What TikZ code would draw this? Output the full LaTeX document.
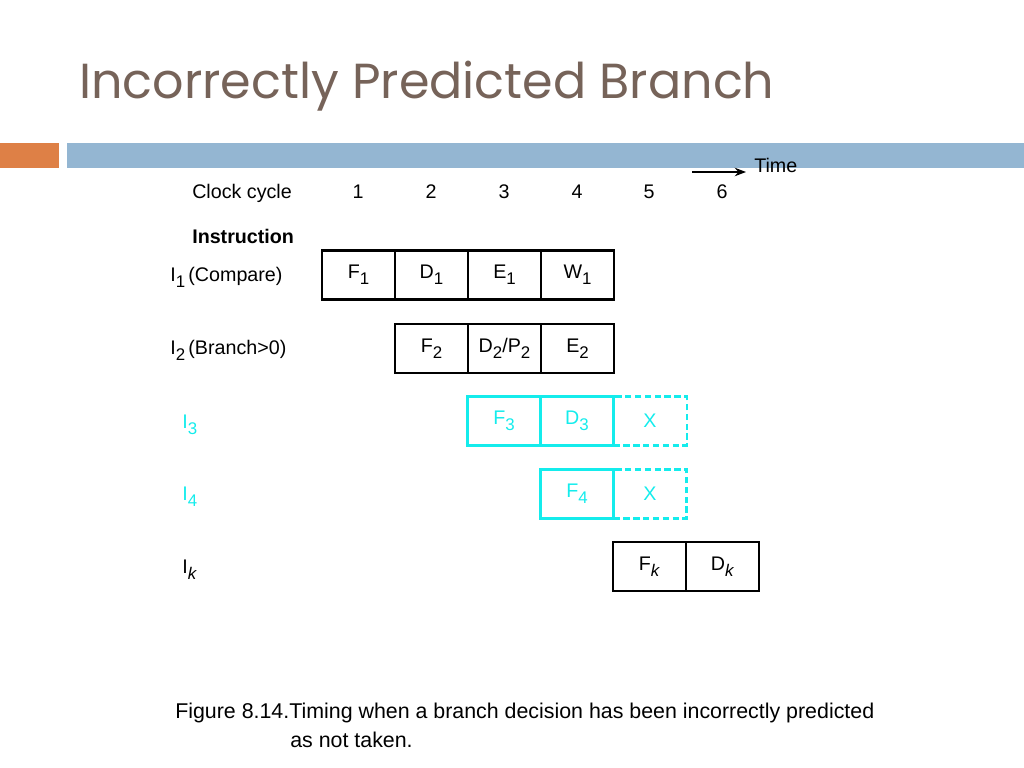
\documentclass[tikz,border=0pt]{standalone}
\usepackage{fontspec}
\setmainfont{Liberation Sans}
\newfontfamily\titlefont{Poppins}
\usetikzlibrary{positioning,arrows.meta}
\definecolor{titlebrown}{RGB}{118,99,89}
\definecolor{barorange}{RGB}{222,128,70}
\definecolor{barblue}{RGB}{148,182,210}
\definecolor{mycyan}{RGB}{20,236,236}
\newcommand{\lo}[1]{\raisebox{-0.6ex}{\fontsize{12}{14}\selectfont #1}}
\tikzset{
  cellbox/.style={draw, line width=1.5pt, outer sep=0pt, minimum width=1.825cm, minimum height=1.225cm, inner sep=0pt, font=\fontsize{14}{16}\selectfont},
  missbox/.style={cellbox, draw=mycyan, text=mycyan, dash pattern=on 4.5pt off 2.5pt},
  label/.style={anchor=west, inner sep=0pt, font=\fontsize{14}{16}\selectfont}
}
\begin{document}
\begin{tikzpicture}[x=0.025cm, y=-0.025cm]
               \useasboundingbox (0,0) rectangle (1024,768);
               % title and bars
               \node[anchor=west, inner sep=0pt, text=titlebrown, font=\titlefont\fontsize{35}{40}\selectfont] (title) at (79,86) {Incorrectly Predicted Branch};
               \fill[barorange] (0,143) rectangle (59,168);
               \fill[barblue] (67,143) rectangle (1024,168);
               % time axis
               \node[label] (time) at (754,165) {Time};
               \coordinate (ts) at (692,172);
               \coordinate (te) at (746,172);
               \draw[-{Stealth[length=8pt,width=6pt]}, line width=1.5pt] (ts)--(te);
               \node[label] (cc) at (192,193) {Clock cycle};
               \foreach \i/\x in {1/358,2/431,3/504,4/577,5/649,6/722}
                    \node[label, anchor=center] (c\i) at (\x,192) {\i};
               \node[label, font=\fontsize{14}{16}\selectfont\bfseries] (instr) at (192,236) {Instruction};
               % row labels
               \node[label] (l1) at (170,277) {I\lo{1}\,(Compare)};
               \node[label] (l2) at (170,350) {I\lo{2}\,(Branch>0)};
               \node[label, text=mycyan] (l3) at (182,425) {I\lo{3}};
               \node[label, text=mycyan] (l4) at (182,497) {I\lo{4}};
               \node[label] (lk) at (182,570) {I\lo{\textit{k}}};
               % I1
               \node[cellbox] (f1) at (358.5,275) {F\lo{1}};
               \node[cellbox, right=0pt of f1] (d1) {D\lo{1}};
               \node[cellbox, right=0pt of d1] (e1) {E\lo{1}};
               \node[cellbox, right=0pt of e1] (w1) {W\lo{1}};
               % I2
               \node[cellbox] (f2) at (431.5,348.5) {F\lo{2}};
               \node[cellbox, right=0pt of f2] (d2) {D\lo{2}/P\lo{2}};
               \node[cellbox, right=0pt of d2] (e2) {E\lo{2}};
               % I3
               \node[cellbox, draw=mycyan, text=mycyan] (f3) at (504,421) {F\lo{3}};
               \node[cellbox, draw=mycyan, text=mycyan, right=0pt of f3] (d3) {D\lo{3}};
               \node[missbox, right=0pt of d3] (x3) {X};
               % I4
               \node[cellbox, draw=mycyan, text=mycyan] (f4) at (577,494) {F\lo{4}};
               \node[missbox, right=0pt of f4] (x4) {X};
               % Ik
               \node[cellbox] (fk) at (649.5,566.5) {F\lo{\textit{k}}};
               \node[cellbox, right=0pt of fk] (dk) {D\lo{\textit{k}}};
               % caption
               \node[label, font=\fontsize{15.2}{18}\selectfont] (cap1) at (175,713) {Figure 8.14.Timing when a branch decision has been incorrectly predicted};
               \node[label, font=\fontsize{15.2}{18}\selectfont] (cap2) at (290,740) {as not taken.};
          \end{tikzpicture}
\end{document}
